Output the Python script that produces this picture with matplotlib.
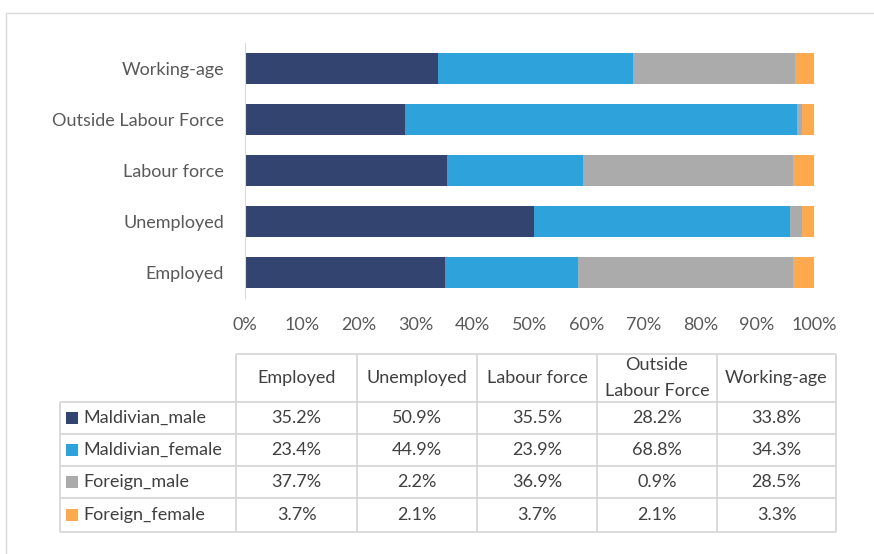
import matplotlib
matplotlib.use("Agg")
import matplotlib.pyplot as plt
from matplotlib.patches import Rectangle

# Datos del gráfico
categories = ["Employed", "Unemployed", "Labour force", "Outside Labour Force", "Working-age"]
table_headers = ["Employed", "Unemployed", "Labour force", "Outside\nLabour Force", "Working-age"]
series_names = ["Maldivian_male", "Maldivian_female", "Foreign_male", "Foreign_female"]
maldivian_male = [35.2, 50.9, 35.5, 28.2, 33.8]
maldivian_female = [23.4, 44.9, 23.9, 68.8, 34.3]
foreign_male = [37.7, 2.2, 36.9, 0.9, 28.5]
foreign_female = [3.7, 2.1, 3.7, 2.1, 3.3]
x_ticks = [0, 10, 20, 30, 40, 50, 60, 70, 80, 90, 100]

series = [maldivian_male, maldivian_female, foreign_male, foreign_female]
colors = ["#334470", "#2EA2DA", "#ABABAB", "#FDA94F"]
text_color = "#595959"
grid_color = "#D9D9D9"

plt.rcParams["font.family"] = ["Lato", "DejaVu Sans"]

W, H = 874, 554
fig = plt.figure(figsize=(W / 100, H / 100), dpi=100)

# marco exterior
fig.patches.append(Rectangle((6 / W, -0.05), 1.2, 1 - 13 / H + 0.05, transform=fig.transFigure,
                             fill=False, edgecolor=grid_color, lw=1))

# barras apiladas al 100%
ax = fig.add_axes([245 / W, 1 - 298 / H, (814 - 245) / W, 255 / H])
totals = [sum(s[i] for s in series) for i in range(len(categories))]
left = [0.0] * len(categories)
for name, vals, c in zip(series_names, series, colors):
    share = [v / t * 100 for v, t in zip(vals, totals)]
    ax.barh(range(len(categories)), share, left=left, height=0.59, color=c, label=name)
    left = [l + s for l, s in zip(left, share)]

ax.set_xlim(0, 100)
ax.set_ylim(-0.5, len(categories) - 0.5)
ax.set_yticks(range(len(categories)))
ax.set_yticklabels(categories)
ax.set_xticks(x_ticks)
ax.set_xticklabels([f"{t}%" for t in x_ticks])
ax.tick_params(axis="both", length=0, labelsize=13, labelcolor=text_color)
ax.tick_params(axis="y", pad=15)
ax.tick_params(axis="x", pad=14)
for sp in ["top", "right", "bottom"]:
    ax.spines[sp].set_visible(False)
ax.spines["left"].set_color(grid_color)

# tabla de datos
tax = fig.add_axes([60 / W, 1 - 532 / H, (836 - 60) / W, (532 - 354) / H])
col_edges = [60, 236, 357, 477, 597, 717, 836]
row_edges = [354, 402, 434, 466, 498, 532]
tax.set_xlim(col_edges[0], col_edges[-1])
tax.set_ylim(row_edges[-1], row_edges[0])
tax.axis("off")

lc = "#D4D4D4"
tax.hlines(row_edges[0], col_edges[1], col_edges[-1], color=lc, lw=1.2, clip_on=False)
tax.hlines(row_edges[1:], col_edges[0], col_edges[-1], color=lc, lw=1.2, clip_on=False)
tax.vlines(col_edges[0], row_edges[1], row_edges[-1], color=lc, lw=1.2, clip_on=False)
tax.vlines(col_edges[1:], row_edges[0], row_edges[-1], color=lc, lw=1.2, clip_on=False)

fs = 13
for j, h in enumerate(table_headers):
    xc = (col_edges[j + 1] + col_edges[j + 2]) / 2
    yc = (row_edges[0] + row_edges[1]) / 2
    tax.text(xc, yc, h, ha="center", va="center", fontsize=fs, color="#404040", linespacing=1.75)

for i, (name, vals, c) in enumerate(zip(series_names, series, colors)):
    yc = (row_edges[i + 1] + row_edges[i + 2]) / 2
    tax.add_patch(Rectangle((66, yc - 6), 12, 12, color=c, lw=0))
    tax.text(83, yc, name, ha="left", va="center", fontsize=fs, color="#404040")
    for j, v in enumerate(vals):
        xc = (col_edges[j + 1] + col_edges[j + 2]) / 2
        tax.text(xc, yc, f"{v:.1f}%", ha="center", va="center", fontsize=fs, color="#404040")

fig.savefig("out.png", dpi=100)
